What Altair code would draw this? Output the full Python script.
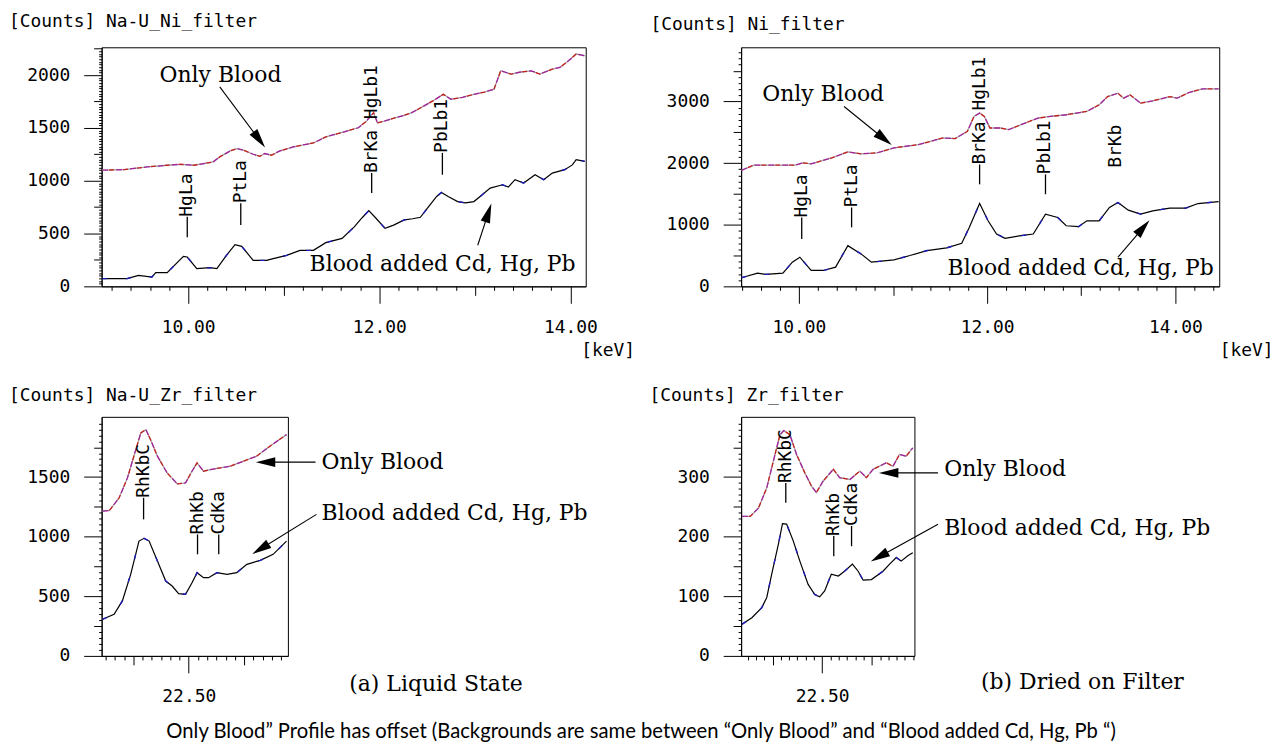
import math
import altair as alt
import pandas as pd

MONO = "DejaVu Sans Mono"
SERIF = "DejaVu Serif"
CAPTION_FONT = "Lato"

# ---------------- Top-left: [Counts] Na-U_Ni_filter ----------------
tl_upper_kev = [9.10, 9.33, 9.57, 9.78, 9.92, 10.06, 10.26, 10.33, 10.44, 10.51,
                10.58, 10.68, 10.75, 10.80, 10.87, 10.96, 11.10, 11.31, 11.44, 11.60,
                11.78, 11.86, 11.94, 11.98, 12.05, 12.17, 12.26, 12.34, 12.45, 12.56,
                12.67, 12.75, 12.87, 12.99, 13.10, 13.20, 13.27, 13.38, 13.48, 13.59,
                13.68, 13.81, 13.89, 13.98, 14.06, 14.15]
tl_upper_cnt = [1100, 1106, 1131, 1147, 1156, 1147, 1178, 1226, 1283, 1305,
                1289, 1251, 1232, 1258, 1242, 1283, 1321, 1358, 1415, 1455,
                1502, 1560, 1645, 1549, 1565, 1597, 1620, 1645, 1700, 1756,
                1819, 1772, 1790, 1819, 1840, 1867, 2041, 2010, 2030, 2041,
                2010, 2057, 2073, 2137, 2200, 2184]
tl_lower_kev = [9.10, 9.36, 9.48, 9.62, 9.66, 9.78, 9.95, 9.99, 10.09, 10.23,
                10.30, 10.40, 10.49, 10.56, 10.68, 10.82, 10.89, 11.03, 11.17, 11.31,
                11.44, 11.61, 11.74, 11.82, 11.89, 11.97, 12.06, 12.15, 12.26, 12.35,
                12.43, 12.52, 12.60, 12.65, 12.72, 12.82, 12.90, 12.99, 13.08, 13.16,
                13.29, 13.35, 13.42, 13.51, 13.63, 13.72, 13.81, 13.94, 14.02, 14.06,
                14.15]
tl_lower_cnt = [73, 73, 104, 88, 130, 130, 284, 278, 168, 177,
                168, 294, 395, 379, 246, 246, 262, 294, 341, 341,
                414, 454, 565, 650, 717, 640, 549, 580, 629, 640,
                654, 760, 851, 889, 850, 803, 790, 803, 870, 930,
                962, 940, 1010, 978, 1057, 1010, 1073, 1105, 1150, 1200,
                1184]
tl_peak_names = ["HgLa", "PtLa", "BrKa HgLb1", "PbLb1"]
tl_peak_kev = [9.99, 10.55, 11.92, 12.66]
tl_peak_tick_lo = [464, 581, 883, 1057]
tl_peak_tick_hi = [660, 787, 1073, 1264]
tl_note_text = ["Only Blood", "Blood added Cd, Hg, Pb"]
tl_note_kev = [9.70, 11.27]
tl_note_cnt = [2000, 209]
tl_arrow_kev_from = [10.33, 13.03]
tl_arrow_cnt_from = [1889, 389]
tl_arrow_kev_to = [10.80, 13.17]
tl_arrow_cnt_to = [1321, 777]

# ---------------- Top-right: [Counts] Ni_filter ----------------
tr_upper_kev = [9.39, 9.52, 9.96, 10.04, 10.13, 10.35, 10.52, 10.66, 10.83, 11.01,
                11.27, 11.53, 11.66, 11.79, 11.86, 11.92, 11.97, 12.03, 12.14, 12.23,
                12.36, 12.54, 12.67, 12.84, 13.06, 13.19, 13.28, 13.39, 13.45, 13.52,
                13.63, 13.76, 13.94, 14.02, 14.15, 14.29, 14.46]
tr_upper_cnt = [1882, 1968, 1968, 2005, 1989, 2086, 2183, 2150, 2167, 2247,
                2301, 2408, 2398, 2516, 2758, 2812, 2758, 2570, 2570, 2543,
                2624, 2731, 2758, 2785, 2839, 2946, 3080, 3134, 3054, 3107,
                2973, 3011, 3080, 3054, 3150, 3204, 3204]
tr_lower_kev = [9.39, 9.56, 9.65, 9.83, 9.93, 10.01, 10.13, 10.26, 10.39, 10.52,
                10.66, 10.77, 11.01, 11.18, 11.36, 11.57, 11.73, 11.81, 11.92, 12.01,
                12.10, 12.19, 12.36, 12.49, 12.62, 12.75, 12.84, 12.97, 13.06, 13.19,
                13.30, 13.39, 13.50, 13.63, 13.76, 13.94, 14.11, 14.24, 14.46]
tr_lower_cnt = [140, 215, 194, 215, 392, 473, 258, 258, 312, 661,
                527, 392, 430, 500, 581, 624, 699, 957, 1344, 1064,
                849, 780, 823, 849, 1172, 1118, 984, 968, 1064, 1064,
                1280, 1360, 1237, 1172, 1226, 1269, 1269, 1344, 1376]
tr_peak_names = ["HgLa", "PtLa", "BrKa HgLb1", "PbLb1", "BrKb"]
tr_peak_kev = [10.03, 10.56, 11.92, 12.62, 13.37]
tr_peak_tick_lo = [769, 957, 1656, 1495, None]
tr_peak_tick_hi = [1118, 1280, 1978, 1817, 1925]
tr_note_text = ["Only Blood", "Blood added Cd, Hg, Pb"]
tr_note_kev = [9.61, 11.58]
tr_note_cnt = [3129, 290]
tr_arrow_kev_from = [10.48, 13.39]
tr_arrow_cnt_from = [2919, 473]
tr_arrow_kev_to = [10.98, 13.72]
tr_arrow_cnt_to = [2300, 1065]

# ---------------- Bottom-left: [Counts] Na-U_Zr_filter ----------------
bl_upper_kev = [20.63, 20.78, 20.99, 21.17, 21.32, 21.46, 21.57, 21.67, 21.82, 22.03,
                22.25, 22.43, 22.57, 22.68, 22.82, 22.97, 23.18, 23.40, 23.69, 23.97,
                24.26, 24.62]
bl_upper_cnt = [1214, 1220, 1326, 1493, 1689, 1870, 1898, 1815, 1675, 1535,
                1443, 1451, 1549, 1619, 1549, 1563, 1577, 1591, 1633, 1675,
                1759, 1856]
bl_lower_kev = [20.63, 20.88, 21.06, 21.24, 21.42, 21.53, 21.64, 21.82, 22.00, 22.14,
                22.28, 22.43, 22.57, 22.68, 22.82, 22.93, 23.11, 23.33, 23.54, 23.76,
                24.05, 24.33, 24.62]
bl_lower_cnt = [307, 349, 461, 684, 963, 986, 963, 796, 628, 586,
                522, 517, 614, 698, 656, 656, 698, 684, 698, 768,
                801, 852, 963]
bl_peak_names = ["RhKbC", "RhKb", "CdKa"]
bl_peak_kev = [21.52, 22.69, 23.15]
bl_peak_tick_lo = [1145, 852, 852]
bl_peak_tick_hi = [1326, 1019, 1019]
bl_note_text = ["Only Blood", "Blood added Cd, Hg, Pb", "(a) Liquid State"]
bl_note_kev = [25.38, 25.38, 25.98]
bl_note_cnt = [1625, 1198, -234]
bl_arrow_kev_from = [25.25, 25.27]
bl_arrow_cnt_from = [1625, 1187]
bl_arrow_kev_to = [23.97, 23.89]
bl_arrow_cnt_to = [1625, 857]

# ---------------- Bottom-right: [Counts] Zr_filter ----------------
br_upper_kev = [20.56, 20.76, 20.96, 21.16, 21.36, 21.48, 21.57, 21.72, 21.88, 22.08,
                22.24, 22.36, 22.52, 22.77, 22.92, 23.17, 23.41, 23.57, 23.73, 24.05,
                24.21, 24.37, 24.53, 24.69]
br_upper_cnt = [234, 234, 248, 282, 338, 371, 378, 371, 338, 307,
                285, 274, 293, 313, 299, 296, 310, 299, 313, 324,
                318, 338, 335, 349]
br_lower_kev = [20.56, 20.80, 21.04, 21.16, 21.28, 21.44, 21.54, 21.64, 21.80, 21.96,
                22.16, 22.32, 22.44, 22.56, 22.72, 22.89, 23.04, 23.23, 23.37, 23.49,
                23.69, 23.97, 24.13, 24.29, 24.41, 24.57, 24.69]
br_lower_cnt = [53, 64, 81, 98, 137, 187, 222, 221, 193, 159,
                120, 103, 99, 109, 137, 134, 142, 154, 142, 127,
                128, 142, 154, 165, 159, 168, 173]
br_peak_names = ["RhKbC", "RhKb", "CdKa"]
br_peak_kev = [21.62, 22.78, 23.21]
br_peak_tick_lo = [257, 167, 184]
br_peak_tick_hi = [290, 201, 218]
br_note_text = ["Only Blood", "Blood added Cd, Hg, Pb", "(b) Dried on Filter"]
br_note_kev = [25.45, 25.45, 26.34]
br_note_cnt = [313, 215, -43]
br_arrow_kev_from = [25.30, 25.30]
br_arrow_cnt_from = [307, 221]
br_arrow_kev_to = [23.89, 23.69]
br_arrow_cnt_to = [307, 159]

caption = ("Only Blood\u201d Profile has offset (Backgrounds are same between "
           "\u201cOnly Blood\u201d and \u201cBlood added Cd, Hg, Pb \u201c)")

ARROW_PATH = "M0,-1L0.5,1L-0.5,1Z"


def ticks_from(start, stop, step):
    n = int(round((stop - start) / step))
    return [round(start + i * step, 4) for i in range(n + 1)]


def panel(title, title_dx, w, h, xdom, ydom, xticks, x_major, x_medium,
          yticks, y_major, y_medium, up_k, up_c, lo_k, lo_c,
          pk_names, pk_kev, pk_lo, pk_hi, nt_text, nt_kev, nt_cnt,
          ar_k1, ar_c1, ar_k2, ar_c2, kev_title_x=None):
    xs = alt.Scale(domain=xdom, nice=False, zero=False)
    ys = alt.Scale(domain=ydom, nice=False, zero=False)
    axis_common = dict(domain=True, domainColor="black", tickColor="black",
                       labelColor="black", labelFont=MONO, labelFontSize=18,
                       labelOverlap=False, grid=False, tickWidth=1)
    xaxis_kw = dict(axis_common)
    xaxis_kw.update(
        values=xticks,
        tickSize={"condition": [{"test": x_major, "value": 17},
                                {"test": x_medium, "value": 9}], "value": 4},
        labelExpr="(" + x_major + ") ? format(datum.value, '.2f') : ''",
        labelPadding=15, labelFlush=False,
    )
    if kev_title_x is not None:
        xaxis_kw.update(title="[keV]", titleX=kev_title_x, titleY=64,
                        titleAlign="left", titleBaseline="middle", titleAngle=0,
                        titleFont=MONO, titleFontSize=18, titleFontWeight="normal",
                        titleColor="black")
    else:
        xaxis_kw.update(title=None)
    xaxis = alt.Axis(**xaxis_kw)
    yaxis_kw = dict(axis_common)
    yaxis_kw.update(
        values=yticks, title=None,
        tickSize={"condition": [{"test": y_major, "value": 18},
                                {"test": y_medium, "value": 8}], "value": 3},
        labelExpr="(" + y_major + ") ? datum.label : ''",
        labelPadding=14, format="d",
    )
    yaxis = alt.Axis(**yaxis_kw)

    def X(f):
        return alt.X(f, type="quantitative", scale=xs, axis=xaxis)

    def Y(f):
        return alt.Y(f, type="quantitative", scale=ys, axis=yaxis)

    up = pd.DataFrame({"k": up_k, "c": up_c})
    lo = pd.DataFrame({"k": lo_k, "c": lo_c})
    layers = [
        alt.Chart(up).mark_line(color="#a6a6a6", strokeWidth=1.3).encode(x=X("k"), y=Y("c")),
        alt.Chart(up).mark_line(color="#a3229a", strokeWidth=1.3, strokeDash=[6, 8]).encode(x=X("k"), y=Y("c")),
        alt.Chart(up).mark_line(color="#c41f1f", strokeWidth=1.3, strokeDash=[5, 9],
                                strokeDashOffset=7).encode(x=X("k"), y=Y("c")),
        alt.Chart(lo).mark_line(color="black", strokeWidth=1.2).encode(x=X("k"), y=Y("c")),
        alt.Chart(lo).mark_line(color="#1d1db5", strokeWidth=1.4, strokeDash=[5, 19]).encode(x=X("k"), y=Y("c")),
    ]
    rules = pd.DataFrame({"k": [k for k, a in zip(pk_kev, pk_lo) if a is not None],
                          "c1": [a for a in pk_lo if a is not None],
                          "c2": [b for a, b in zip(pk_lo, pk_hi) if a is not None]})
    layers.append(alt.Chart(rules).mark_rule(color="black", strokeWidth=1.3)
                  .encode(x=X("k"), y=Y("c1"), y2="c2"))
    labels = pd.DataFrame({"k": pk_kev, "c": pk_hi, "t": pk_names})
    layers.append(alt.Chart(labels).mark_text(angle=270, align="left", baseline="middle",
                                              font=MONO, fontSize=18, color="black")
                  .encode(x=X("k"), y=Y("c"), text="t:N"))
    notes = pd.DataFrame({"k": nt_kev, "c": nt_cnt, "t": nt_text})
    layers.append(alt.Chart(notes).mark_text(align="left", baseline="middle",
                                             font=SERIF, fontSize=22, color="black")
                  .encode(x=X("k"), y=Y("c"), text="t:N"))
    pxk = w / (xdom[1] - xdom[0])
    pyc = h / (ydom[1] - ydom[0])
    angs, hk, hc = [], [], []
    half = 9.0
    for k1, c1, k2, c2 in zip(ar_k1, ar_c1, ar_k2, ar_c2):
        a = math.atan2((k2 - k1) * pxk, (c2 - c1) * pyc)
        angs.append(math.degrees(a) % 360)
        hk.append(k2 - math.sin(a) * half / pxk)
        hc.append(c2 - math.cos(a) * half / pyc)
    arr = pd.DataFrame({"k1": ar_k1, "c1": ar_c1, "k2": hk, "c2": hc})
    layers.append(alt.Chart(arr).mark_rule(color="black", strokeWidth=1.1)
                  .encode(x=X("k1"), y=Y("c1"), x2="k2", y2="c2"))
    heads = pd.DataFrame({"k": hk, "c": hc, "a": angs})
    layers.append(alt.Chart(heads).mark_point(shape=ARROW_PATH, filled=True, color="black",
                                              size=380, opacity=1, strokeWidth=0)
                  .encode(x=X("k"), y=Y("c"), angle=alt.Angle("a:Q", scale=None)))
    return alt.layer(*layers).properties(
        width=w, height=h,
        title=alt.TitleParams(text=title, anchor="start", frame="group", dx=title_dx,
                              offset=0, baseline="middle", font=MONO, fontSize=18,
                              fontWeight="normal", color="black"),
    )


X_MAJ2 = "abs(datum.value/2 - round(datum.value/2)) < 0.001"
X_MED1 = "abs(datum.value - round(datum.value)) < 0.001"
X_MAJB = "abs(datum.value - 22.5) < 0.001"
X_MEDB = "abs(datum.value - 21.3) < 0.001 || abs(datum.value - 23.7) < 0.001"

tl = panel("[Counts] Na-U_Ni_filter", -93, 486, 240, [9.094, 14.16], [0, 2264],
           ticks_from(9.2, 14.0, 0.2), X_MAJ2, X_MED1,
           ticks_from(0, 2250, 25), "datum.value % 500 === 0", "datum.value % 250 === 0",
           tl_upper_kev, tl_upper_cnt, tl_lower_kev, tl_lower_cnt,
           tl_peak_names, tl_peak_kev, tl_peak_tick_lo, tl_peak_tick_hi,
           tl_note_text, tl_note_kev, tl_note_cnt,
           tl_arrow_kev_from, tl_arrow_cnt_from, tl_arrow_kev_to, tl_arrow_cnt_to,
           kev_title_x=481)
tr = panel("[Counts] Ni_filter", -91, 480, 240, [9.386, 14.466], [0, 3880],
           ticks_from(9.4, 14.4, 0.2), X_MAJ2, X_MED1,
           ticks_from(0, 3800, 100), "datum.value % 1000 === 0", "datum.value % 500 === 0",
           tr_upper_kev, tr_upper_cnt, tr_lower_kev, tr_lower_cnt,
           tr_peak_names, tr_peak_kev, tr_peak_tick_lo, tr_peak_tick_hi,
           tr_note_text, tr_note_kev, tr_note_cnt,
           tr_arrow_kev_from, tr_arrow_cnt_from, tr_arrow_kev_to, tr_arrow_cnt_to,
           kev_title_x=480)
bl = panel("[Counts] Na-U_Zr_filter", -93, 187, 240, [20.61, 24.65], [0, 2005],
           ticks_from(20.7, 24.5, 0.2), X_MAJB, X_MEDB,
           ticks_from(0, 1950, 50), "datum.value % 500 === 0", "datum.value % 250 === 0",
           bl_upper_kev, bl_upper_cnt, bl_lower_kev, bl_lower_cnt,
           bl_peak_names, bl_peak_kev, bl_peak_tick_lo, bl_peak_tick_hi,
           bl_note_text, bl_note_kev, bl_note_cnt,
           bl_arrow_kev_from, bl_arrow_cnt_from, bl_arrow_kev_to, bl_arrow_cnt_to)
br = panel("[Counts] Zr_filter", -92, 174, 240, [20.54, 24.73], [0, 401],
           ticks_from(20.7, 24.7, 0.2), X_MAJB, X_MEDB,
           ticks_from(0, 390, 10), "datum.value % 100 === 0", "datum.value % 50 === 0",
           br_upper_kev, br_upper_cnt, br_lower_kev, br_lower_cnt,
           br_peak_names, br_peak_kev, br_peak_tick_lo, br_peak_tick_hi,
           br_note_text, br_note_kev, br_note_cnt,
           br_arrow_kev_from, br_arrow_cnt_from, br_arrow_kev_to, br_arrow_cnt_to)

chart = alt.concat(tl, tr, bl, br, columns=2, bounds="flush",
                   spacing={"column": 156, "row": 131}).properties(
    title=alt.TitleParams(text=caption, orient="bottom", anchor="middle",
                          font=CAPTION_FONT, fontSize=20.3, fontWeight="normal",
                          color="black", offset=16, baseline="top"),
    padding={"left": 0, "top": 2, "right": 5, "bottom": 0},
    background="white",
).configure_view(stroke="black", strokeWidth=1)

chart.save("out.html", embed_options={"renderer": "svg", "actions": False})
